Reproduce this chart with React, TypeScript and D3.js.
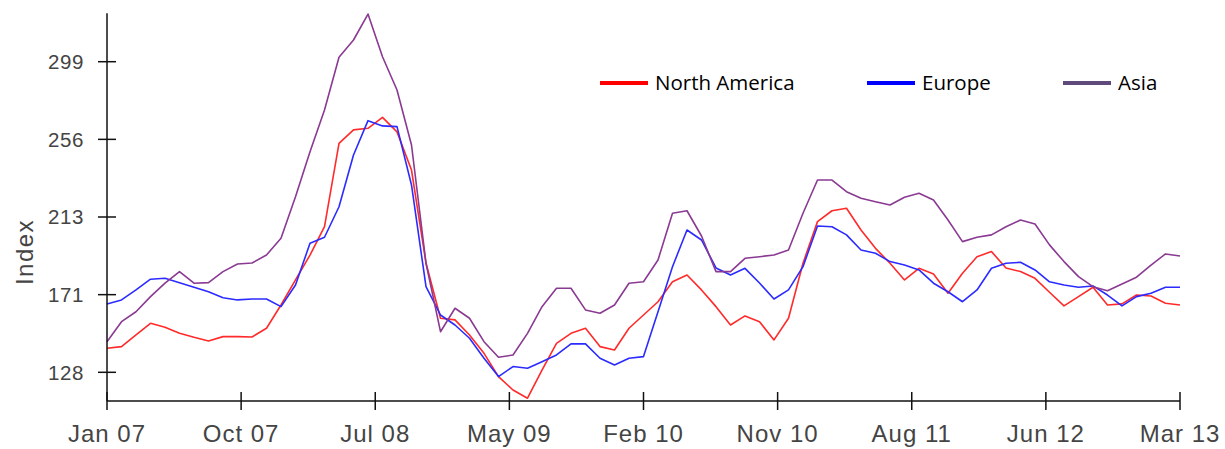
import React from "react";
import * as d3 from "d3";

const months: string[] = (() => {
  const names = ["Jan","Feb","Mar","Apr","May","Jun","Jul","Aug","Sep","Oct","Nov","Dec"];
  const out: string[] = [];
  for (let i = 0; i < 75; i++) {
    const m = i % 12;
    const y = 7 + Math.floor(i / 12);
    out.push(`${names[m]} ${String(y).padStart(2, "0")}`);
  }
  return out;
})();

const northAmerica = [
  141.5, 142.4, 148.8, 155.2, 153.0, 149.7, 147.5, 145.5, 147.9, 147.9,
  147.7, 152.5, 165.3, 179.1, 192.8, 208.4, 254.3, 261.7, 262.6, 268.6,
  260.6, 239.6, 188.4, 158.0, 157.1, 148.8, 138.7, 125.9, 118.5, 114.0,
  129.5, 144.2, 149.7, 152.5, 142.4, 140.5, 152.5, 159.8, 167.1, 178.1,
  181.8, 173.6, 164.4, 154.3, 159.3, 156.1, 146.1, 158.0, 188.3, 211.2,
  217.2, 218.6, 206.6, 196.5, 188.3, 179.1, 185.5, 182.4, 171.8, 182.8,
  191.9, 194.7, 185.7, 183.7, 180.0, 172.3, 164.8, 169.9, 175.1, 165.3,
  165.9, 170.8, 170.3, 166.3, 165.3,
];

const europe = [
  165.9, 168.1, 173.6, 179.5, 180.0, 177.6, 175.1, 172.6, 169.3, 168.1,
  168.6, 168.6, 164.4, 176.3, 199.3, 202.6, 219.4, 247.9, 266.8, 263.9,
  263.5, 231.4, 175.4, 159.8, 154.3, 147.0, 136.0, 125.9, 131.4, 130.5,
  134.1, 137.8, 143.9, 143.9, 136.0, 132.3, 136.0, 136.9, 161.6, 186.4,
  206.6, 201.1, 185.7, 181.8, 185.5, 177.4, 168.6, 173.6, 186.4, 208.8,
  208.4, 203.9, 195.6, 193.8, 189.2, 187.3, 184.6, 177.3, 172.6, 167.1,
  173.6, 185.5, 188.3, 188.8, 184.6, 178.1, 176.3, 175.1, 175.8, 170.8,
  164.8, 169.9, 171.8, 175.1, 175.1,
];

const asia = [
  145.1, 156.1, 161.6, 169.9, 177.3, 183.7, 177.3, 177.6, 183.7, 187.9,
  188.4, 192.8, 202.0, 224.9, 249.7, 272.7, 301.7, 311.2, 325.5, 302.0,
  283.7, 253.4, 188.3, 150.6, 163.5, 158.0, 145.1, 136.5, 137.8, 149.7,
  164.4, 174.5, 174.5, 162.6, 160.8, 165.3, 177.3, 178.1, 190.1, 215.8,
  217.2, 203.3, 183.7, 183.7, 191.0, 191.9, 192.8, 195.6, 215.8, 234.1,
  234.1, 227.7, 224.1, 222.2, 220.4, 224.6, 226.8, 223.1, 212.1, 200.2,
  202.6, 203.9, 208.4, 212.1, 209.9, 198.4, 189.2, 180.9, 175.4, 173.2,
  176.9, 180.6, 187.3, 193.4, 192.3,
];

const xTickLabels = ["Jan 07", "Oct 07", "Jul 08", "May 09", "Feb 10", "Nov 10", "Aug 11", "Jun 12", "Mar 13"];
const yTickValues = [128.25, 171, 213.75, 256.5, 299.25];
const yTickLabels = ["128", "171", "213", "256", "299"];

const seriesNames = ["North America", "Europe", "Asia"];
const seriesColors = ["#ff2a2a", "#2b2bff", "#8a3a92"];
const legendColors = ["#ff0000", "#0000ff", "#604a7b"];

export default function App() {
  const W = 1225, H = 449;
  const left = 107, right = 1180, top = 13.3, bottom = 401;
  const x = d3.scaleLinear().domain([0, months.length - 1]).range([left, right]);
  const y = d3.scaleLinear().domain([112.45, 325.9]).range([bottom, top]);
  const line = d3.line<number>().x((_, i) => x(i)).y((v) => y(v));
  const data = [northAmerica, europe, asia];
  const xTickPos = xTickLabels.map((_, i) => (i * (months.length - 1)) / (xTickLabels.length - 1));
  const legendX = [600, 867, 1063];

  return (
    <svg width={W} height={H} style={{ position: "absolute", left: 0, top: 0, display: "block", background: "#fff" }}>
      {data.map((s, k) => (
        <path key={k} d={line(s) || ""} fill="none" stroke={seriesColors[k]} strokeWidth={1.6} strokeLinejoin="round" />
      ))}
      <line x1={left} x2={left} y1={top} y2={bottom} stroke="#111" strokeWidth={1.5} />
      <line x1={left} x2={right} y1={bottom} y2={bottom} stroke="#111" strokeWidth={1.5} />
      {yTickValues.map((v, i) => (
        <g key={i}>
          <line x1={left - 9} x2={left + 9} y1={y(v)} y2={y(v)} stroke="#111" strokeWidth={1.5} />
          <text x={84} y={y(v)} dy="0.36em" textAnchor="end" fontFamily="'Liberation Sans', Arial, sans-serif" fontSize={20.5} letterSpacing={0.6} fill="#444">
            {yTickLabels[i]}
          </text>
        </g>
      ))}
      {xTickPos.map((p, i) => (
        <g key={i}>
          <line x1={x(p)} x2={x(p)} y1={bottom - 9} y2={bottom + 9} stroke="#111" strokeWidth={1.5} />
          <text x={x(p)} y={442} textAnchor="middle" fontFamily="'Liberation Sans', Arial, sans-serif" fontSize={24} letterSpacing={1} fill="#444">
            {xTickLabels[i]}
          </text>
        </g>
      ))}
      <text transform={`translate(33,252) rotate(-90)`} textAnchor="middle" fontFamily="'Liberation Sans', Arial, sans-serif" fontSize={24} letterSpacing={1.5} fill="#444">
        Index
      </text>
      {seriesNames.map((n, k) => (
        <g key={n}>
          <line x1={legendX[k]} x2={legendX[k] + 48} y1={83} y2={83} stroke={legendColors[k]} strokeWidth={4} />
          <text x={legendX[k] + 55} y={90} fontFamily="'Open Sans', sans-serif" fontSize={20.5} fill="#000">
            {n}
          </text>
        </g>
      ))}
    </svg>
  );
}
